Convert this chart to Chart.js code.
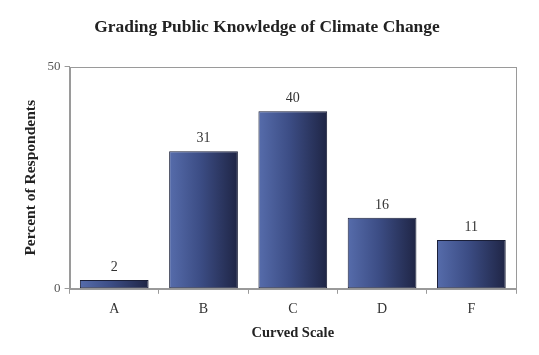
<!DOCTYPE html>
<html><head><meta charset="utf-8">
<script src="https://cdn.jsdelivr.net/npm/chart.js@4/dist/chart.umd.min.js"></script>
<style>html,body{margin:0;padding:0;background:#fff}#w{width:539px;height:355px}</style>
</head><body><div id="w"><canvas id="c" width="539" height="355"></canvas></div>
<script>
const categories = ['A','B','C','D','F'];
const values = [2,31,40,16,11];
const yTicks = [0,50];
const titleText = 'Grading Public Knowledge of Climate Change';
const xTitle = 'Curved Scale';
const yTitle = 'Percent of Respondents';

const serif = '"Liberation Serif", "DejaVu Serif", serif';
const catPct = 0.77;

const labelPlugin = {
  id: 'labels',
  afterDatasetsDraw(chart) {
    const ctx = chart.ctx;
    const meta = chart.getDatasetMeta(0);
    ctx.save();
    ctx.font = '14px ' + serif;
    ctx.fillStyle = '#333';
    ctx.textAlign = 'center';
    ctx.textBaseline = 'alphabetic';
    meta.data.forEach((el, i) => {
      ctx.fillText(String(values[i]), el.x, el.y - 9);
    });
    ctx.restore();
  },
  afterDraw(chart) {
    const a = chart.chartArea, ctx = chart.ctx;
    ctx.save();
    ctx.strokeStyle = '#9a9a9a';
    ctx.lineWidth = 1;
    ctx.strokeRect(Math.round(a.left)+0.5, Math.round(a.top)+0.5, Math.round(a.right-a.left), Math.round(a.bottom-a.top));
    ctx.restore();
  }
};

function barFill(context) {
  const chart = context.chart;
  const xs = chart.scales && chart.scales.x;
  if (!xs || !chart.chartArea || context.dataIndex === undefined) return '#3a4a80';
  const cx = xs.getPixelForValue(context.dataIndex);
  const half = (xs.width / categories.length) * catPct / 2;
  if (!isFinite(cx) || !isFinite(half)) return '#3a4a80';
  const g = chart.ctx.createLinearGradient(cx - half, 0, cx + half, 0);
  g.addColorStop(0, '#566cab');
  g.addColorStop(0.45, '#3c4d85');
  g.addColorStop(1, '#1f2545');
  return g;
}

new Chart(document.getElementById('c'), {
  type: 'bar',
  data: {
    labels: categories,
    datasets: [{
      data: values,
      backgroundColor: barFill,
      borderColor: '#1a1f38',
      borderWidth: 1,
      borderSkipped: false,
      categoryPercentage: catPct,
      barPercentage: 1.0
    }]
  },
  options: {
    responsive: false,
    animation: false,
    layout: { padding: { top: 8, right: 23, bottom: 9, left: 18 } },
    plugins: {
      legend: { display: false },
      tooltip: { enabled: false },
      title: {
        display: true, text: titleText, color: '#222',
        font: { family: serif, size: 17.4, weight: 'bold' },
        padding: { top: 9, bottom: 29 }
      }
    },
    scales: {
      x: {
        offset: true,
        grid: { offset: true, drawOnChartArea: false, drawTicks: true, tickLength: 5, color: '#9a9a9a' },
        border: { color: '#9a9a9a' },
        ticks: { color: '#333', font: { family: serif, size: 14 }, padding: 7 },
        title: { display: true, text: xTitle, color: '#222', font: { family: serif, size: 14.5, weight: 'bold' }, padding: { top: 0, bottom: 4 } }
      },
      y: {
        min: 0, max: 50,
        afterBuildTicks(scale) { scale.ticks = yTicks.map(v => ({ value: v })); },
        grid: { drawOnChartArea: false, tickLength: 5, color: '#9a9a9a' },
        border: { color: '#9a9a9a' },
        ticks: { color: '#555', font: { family: serif, size: 13 }, padding: 4 },
        title: { display: true, text: yTitle, color: '#222', font: { family: serif, size: 15.5, weight: 'bold' }, padding: { top: 4, bottom: 3 } }
      }
    }
  },
  plugins: [labelPlugin]
});
</script>
</body></html>
